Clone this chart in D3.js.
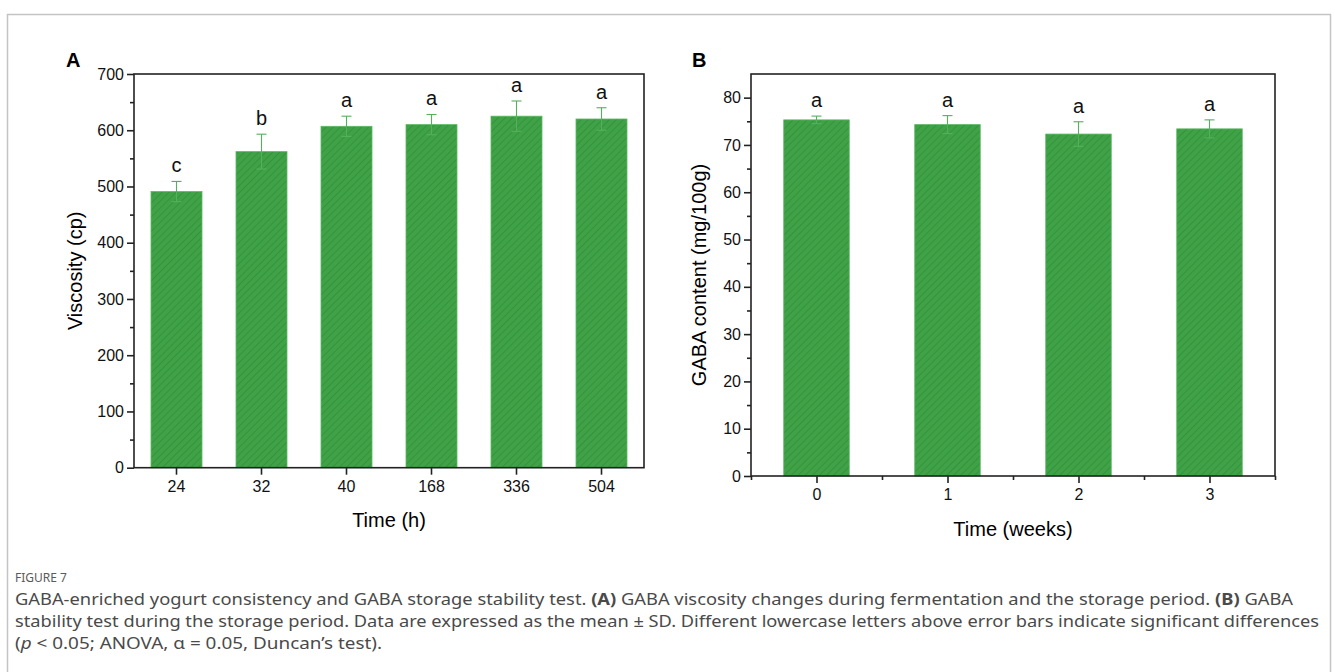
<!DOCTYPE html>
<html>
<head>
<meta charset="utf-8">
<script src="https://cdn.jsdelivr.net/npm/d3@7"></script>
<style>
  body { margin: 0; background: #fff; }
  svg text { font-family: "Liberation Sans", Arial, sans-serif; }
  svg .cap text { font-family: "Noto Sans", "Open Sans", sans-serif; fill: #4a4a4a; }
</style>
</head>
<body>
<svg id="fig" width="1335" height="672"></svg>
<script>
'use strict';

// panel A: viscosity
var hoursLabels = ["24", "32", "40", "168", "336", "504"];
var viscosity = [491, 562, 607, 610, 625, 620];
var viscositySd = [18, 31, 18, 18, 27, 20];
var viscosityLetters = ["c", "b", "a", "a", "a", "a"];
var viscosityTicks = [0, 100, 200, 300, 400, 500, 600, 700];

// panel B: GABA content
var weeks = [0, 1, 2, 3];
var gaba = [75.3, 74.3, 72.3, 73.4];
var gabaSd = [0.8, 1.9, 2.6, 1.9];
var gabaLetters = ["a", "a", "a", "a"];
var gabaTicks = [0, 10, 20, 30, 40, 50, 60, 70, 80];

var svg = d3.select("#fig");
var frameColor = "#222";
var barColor = "#3fa246";
var errColor = "#55b05c";

// outer gray frame of the figure
svg.append("rect")
   .attr("x", 7.5).attr("y", 14.5)
   .attr("width", 1323).attr("height", 700)
   .attr("fill", "none").attr("stroke", "#c4c4c4").attr("stroke-width", 1.5);

// hatch for the bars
var defs = svg.append("defs");
defs.append("pattern")
    .attr("id", "hatch")
    .attr("patternUnits", "userSpaceOnUse")
    .attr("width", 5).attr("height", 5)
    .attr("patternTransform", "rotate(45)")
    .call(p => {
        p.append("rect").attr("width", 5).attr("height", 5).attr("fill", barColor);
        p.append("line").attr("x1", 0).attr("y1", 0).attr("x2", 0).attr("y2", 5)
         .attr("stroke", "#2a7a31").attr("stroke-width", 1).attr("stroke-opacity", 0.8);
    });

function drawFrame(g, x0, x1, y0, y1) {
    g.append("rect")
     .attr("x", x0).attr("y", y1)
     .attr("width", x1 - x0).attr("height", y0 - y1)
     .attr("fill", "none").attr("stroke", frameColor).attr("stroke-width", 1.6);
}

function drawBars(g, xs, ys, means, sds, letters, halfWidth) {
    var data = means.map((m, i) => ({x: xs(i), m: m, sd: sds[i], letter: letters[i]}));
    var y0 = ys(0);

    g.selectAll(".bar").data(data).enter().append("rect")
     .attr("x", d => d.x - halfWidth)
     .attr("y", d => ys(d.m))
     .attr("width", halfWidth * 2)
     .attr("height", d => y0 - ys(d.m))
     .attr("fill", "url(#hatch)")
     .attr("stroke", "#5cb863").attr("stroke-width", 0.8);

    // error bars, only the upper cap really shows above the bar
    var err = g.selectAll(".err").data(data).enter().append("g")
               .attr("stroke", errColor).attr("stroke-width", 1.1);
    err.append("line")
       .attr("x1", d => d.x).attr("x2", d => d.x)
       .attr("y1", d => ys(d.m - d.sd)).attr("y2", d => ys(d.m + d.sd));
    err.append("line")
       .attr("x1", d => d.x - 5).attr("x2", d => d.x + 5)
       .attr("y1", d => ys(d.m + d.sd)).attr("y2", d => ys(d.m + d.sd));
    err.append("line")
       .attr("x1", d => d.x - 5).attr("x2", d => d.x + 5)
       .attr("y1", d => ys(d.m - d.sd)).attr("y2", d => ys(d.m - d.sd));

    g.selectAll(".letter").data(data).enter().append("text")
     .attr("x", d => d.x)
     .attr("y", d => ys(d.m + d.sd) - 9)
     .attr("text-anchor", "middle")
     .attr("font-size", 20)
     .attr("fill", "#111")
     .text(d => d.letter);
}

function styleAxis(a) {
    a.select(".domain").remove();
    a.selectAll(".tick line").attr("stroke", frameColor).attr("stroke-width", 1.6);
    a.selectAll(".tick text").attr("font-size", 16).attr("fill", "#111")
     .attr("font-family", "Liberation Sans, Arial, sans-serif");
}

// ---------- panel A ----------
(function () {
    var left = 134, right = 644, top = 74, bottom = 467.7;
    var g = svg.append("g");

    var x = d3.scaleBand().domain(d3.range(hoursLabels.length)).range([left, right]).padding(0);
    var xc = i => x(i) + x.bandwidth() / 2;
    var y = d3.scaleLinear().domain([0, 700]).range([bottom, top]);

    // minor ticks
    g.append("g").attr("transform", "translate(" + left + ",0)")
     .call(d3.axisLeft(y).tickValues(d3.range(50, 700, 100)).tickSize(4).tickFormat(""))
     .call(styleAxis);
    g.append("g").attr("transform", "translate(" + left + ",0)")
     .call(d3.axisLeft(y).tickValues(viscosityTicks).tickSize(7).tickPadding(3))
     .call(styleAxis);
    g.append("g").attr("transform", "translate(0," + bottom + ")")
     .call(d3.axisBottom(x).tickFormat(i => hoursLabels[i]).tickSize(7).tickPadding(6))
     .call(styleAxis);

    drawBars(g, xc, y, viscosity, viscositySd, viscosityLetters, x.bandwidth() * 0.3);
    drawFrame(g, left, right, bottom, top);

    g.append("text").attr("x", 66).attr("y", 67).attr("font-size", 20)
     .attr("font-weight", "bold").text("A");
    g.append("text").attr("x", (left + right) / 2).attr("y", 527)
     .attr("text-anchor", "middle").attr("font-size", 20).text("Time (h)");
    g.append("text")
     .attr("transform", "translate(82," + (top + bottom) / 2 + ") rotate(-90)")
     .attr("text-anchor", "middle").attr("font-size", 20).text("Viscosity (cp)");
})();

// ---------- panel B ----------
(function () {
    var left = 751, right = 1275, top = 74, bottom = 476;
    var g = svg.append("g");

    var x = d3.scaleLinear().domain([-0.5, 3.5]).range([left, right]);
    var y = d3.scaleLinear().domain([0, 85]).range([bottom, top]);

    g.append("g").attr("transform", "translate(" + left + ",0)")
     .call(d3.axisLeft(y).tickValues(d3.range(5, 85, 10)).tickSize(4).tickFormat(""))
     .call(styleAxis);
    g.append("g").attr("transform", "translate(" + left + ",0)")
     .call(d3.axisLeft(y).tickValues(gabaTicks).tickSize(7).tickPadding(3))
     .call(styleAxis);
    g.append("g").attr("transform", "translate(0," + bottom + ")")
     .call(d3.axisBottom(x).tickValues(d3.range(-0.5, 4, 1)).tickSize(4).tickFormat(""))
     .call(styleAxis);
    g.append("g").attr("transform", "translate(0," + bottom + ")")
     .call(d3.axisBottom(x).tickValues(weeks).tickSize(7).tickPadding(6).tickFormat(d3.format("d")))
     .call(styleAxis);

    var half = (x(0.25) - x(0));
    drawBars(g, i => x(weeks[i]), y, gaba, gabaSd, gabaLetters, half);
    drawFrame(g, left, right, bottom, top);

    g.append("text").attr("x", 692).attr("y", 67).attr("font-size", 20)
     .attr("font-weight", "bold").text("B");
    g.append("text").attr("x", (left + right) / 2).attr("y", 536)
     .attr("text-anchor", "middle").attr("font-size", 20).text("Time (weeks)");
    g.append("text")
     .attr("transform", "translate(706," + (top + bottom) / 2 + ") rotate(-90)")
     .attr("text-anchor", "middle").attr("font-size", 20).text("GABA content (mg/100g)");
})();

// ---------- caption ----------
var cap = svg.append("g").attr("class", "cap");
cap.append("text").attr("x", 15).attr("y", 582).attr("font-size", 12)
   .style("fill", "#5a5a5a").text("FIGURE 7");

var capLines = [
    [["GABA-enriched yogurt consistency and GABA storage stability test. ", ""], ["(A)", "b"],
     [" GABA viscosity changes during fermentation and the storage period. ", ""], ["(B)", "b"], [" GABA", ""]],
    [["stability test during the storage period. Data are expressed as the mean \u00B1 SD. Different lowercase letters above error bars indicate significant differences", ""]],
    [["(", ""], ["p", "i"], [" < 0.05; ANOVA, \u03B1 = 0.05, Duncan\u2019s test).", ""]]
];
var capWidths = [1278, 1304, 367];
capLines.forEach((parts, li) => {
    var t = cap.append("text").attr("x", 15).attr("y", 605 + li * 22)
               .attr("font-size", 16)
               .attr("textLength", capWidths[li]).attr("lengthAdjust", "spacingAndGlyphs");
    parts.forEach(p => {
        var s = t.append("tspan").text(p[0]);
        if (p[1] == "b") s.attr("font-weight", "bold");
        if (p[1] == "i") s.attr("font-style", "italic");
    });
});
</script>
</body>
</html>
